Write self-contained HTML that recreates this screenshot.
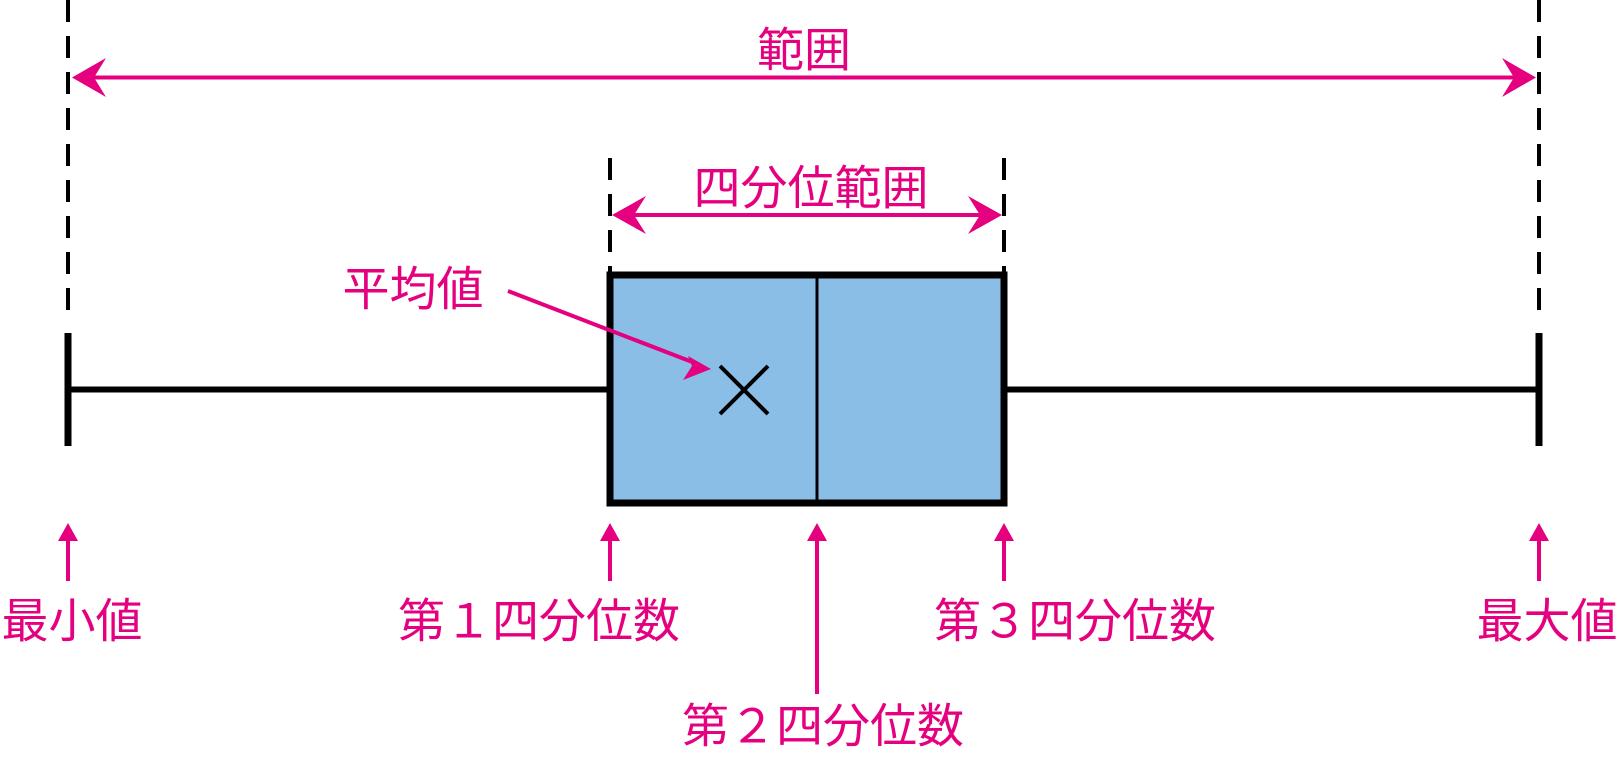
<!DOCTYPE html>
<html><head><meta charset="utf-8"><style>
html,body{margin:0;padding:0;background:#fff;}
svg{display:block}
text{font-family:"Liberation Sans","Noto Sans CJK JP",sans-serif;fill:#e4007f;font-size:47px;text-anchor:middle;dominant-baseline:central}
</style></head><body>
<svg width="1620" height="762" viewBox="0 0 1620 762">
<g stroke="#000" stroke-width="4" stroke-dasharray="22 14">
<line x1="68" y1="0" x2="68" y2="318"/>
<line x1="1539" y1="0" x2="1539" y2="318"/>
<line x1="610" y1="158" x2="610" y2="274"/>
<line x1="1004" y1="158" x2="1004" y2="274"/>
</g>
<line x1="68" y1="389.5" x2="610" y2="389.5" stroke="#000" stroke-width="6"/>
<line x1="1004" y1="389.5" x2="1539" y2="389.5" stroke="#000" stroke-width="6"/>
<line x1="68" y1="333" x2="68" y2="446" stroke="#000" stroke-width="7"/>
<line x1="1539" y1="333" x2="1539" y2="446" stroke="#000" stroke-width="7"/>
<rect x="610" y="275" width="394" height="228" fill="#8bbee6" stroke="#000" stroke-width="7"/>
<line x1="817" y1="275" x2="817" y2="503" stroke="#000" stroke-width="3"/>
<line x1="720" y1="366" x2="768" y2="414" stroke="#000" stroke-width="4"/>
<line x1="768" y1="366" x2="720" y2="414" stroke="#000" stroke-width="4"/>
<g stroke="#e4007f" stroke-width="4">
<line x1="85" y1="77.5" x2="1522" y2="77.5"/>
<line x1="625" y1="215" x2="990" y2="215"/>
<line x1="508" y1="291" x2="700" y2="365"/>
<line x1="68" y1="538" x2="68" y2="581"/>
<line x1="610" y1="538" x2="610" y2="581"/>
<line x1="817" y1="538" x2="817" y2="694"/>
<line x1="1004" y1="538" x2="1004" y2="581"/>
<line x1="1539" y1="538" x2="1539" y2="581"/>
</g>
<g fill="#e4007f">
<path d="M72,77.5 L106,58 L94,77.5 L106,97 Z"/>
<path d="M1536,77.5 L1502,58 L1514,77.5 L1502,97 Z"/>
<path d="M612,215 L646,196 L634,215 L646,234 Z"/>
<path d="M1002,215 L968,196 L980,215 L968,234 Z"/>
<path d="M711,369 L688,356 L692,366 L683,380 Z"/>
<path d="M68,523 L58,541 L78,541 Z"/>
<path d="M610,523 L600,541 L620,541 Z"/>
<path d="M817,523 L807,541 L827,541 Z"/>
<path d="M1004,523 L994,541 L1014,541 Z"/>
<path d="M1539,523 L1529,541 L1549,541 Z"/>
</g>
<text x="804" y="50">範囲</text>
<text x="811" y="188">四分位範囲</text>
<text x="413" y="289">平均値</text>
<text x="72" y="621">最小値</text>
<text x="539" y="621">第１四分位数</text>
<text x="1075" y="621">第３四分位数</text>
<text x="1547" y="621">最大値</text>
<text x="823" y="726">第２四分位数</text>
</svg>
</body></html>
